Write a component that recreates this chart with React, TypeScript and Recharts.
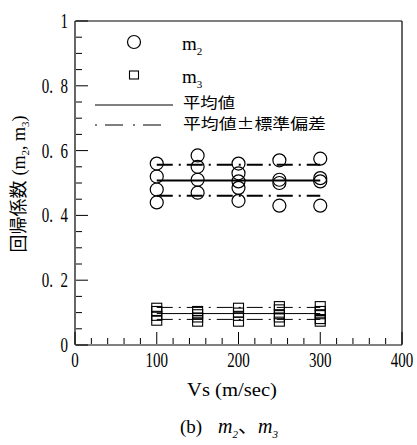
import React from 'react';
import { ComposedChart, XAxis, YAxis, Scatter, Line } from 'recharts';

// shear-wave velocities of the sample groups
const speeds = [100, 150, 200, 250, 300];

// regression coefficient m2 per velocity group
const m2Values = [
  [0.56, 0.52, 0.48, 0.44],
  [0.585, 0.55, 0.51, 0.47],
  [0.56, 0.53, 0.505, 0.485, 0.445],
  [0.57, 0.51, 0.5, 0.43],
  [0.575, 0.515, 0.505, 0.43],
];

// regression coefficient m3 per velocity group
const m3Values = [
  [0.115, 0.105, 0.09, 0.075],
  [0.105, 0.095, 0.085, 0.072],
  [0.115, 0.1, 0.09, 0.072],
  [0.12, 0.11, 0.095, 0.085, 0.072],
  [0.12, 0.105, 0.095, 0.08, 0.072],
];

// lower (mean - sd), mean, upper (mean + sd)
const m2Stats = [0.461, 0.508, 0.556];
const m3Stats = [0.079, 0.097, 0.116];

const xTicks = [0, 20, 40, 60, 80, 100, 120, 140, 160, 180, 200, 220, 240, 260, 280, 300, 320, 340, 360, 380, 400];
const yTicks = [0, 0.05, 0.1, 0.15, 0.2, 0.25, 0.3, 0.35, 0.4, 0.45, 0.5, 0.55, 0.6, 0.65, 0.7, 0.75, 0.8, 0.85, 0.9, 0.95, 1];

const toPoints = (groups: number[][]) =>
  groups.flatMap((vals, i) => vals.map((y) => ({ x: speeds[i], y })));

const span = (y: number) => [
  { x: speeds[0], y },
  { x: speeds[speeds.length - 1], y },
];

const m2Points = toPoints(m2Values);
const m3Points = toPoints(m3Values);

const NUM_FONT = 'Liberation Serif';
const JP_FONT = '"Noto Sans CJK JP", sans-serif';
const DASH_DOT = '16 6 2 6';
const AXIS = { stroke: '#000', strokeWidth: 1.2 };

// "0. 8" style labels, with an en space after the point
const fmtY = (v: number) => (v === 0 ? '0' : v === 1 ? '1' : v.toFixed(1).replace('.', '.\u2002'));
const isMajorX = (v: number) => v % 100 === 0;
const isMajorY = (v: number) => Math.round(v * 100) % 20 === 0;

const Num = ({ x, y, anchor, children }: any) => (
  <text
    transform={`translate(${x},${y}) scale(0.75,1)`}
    textAnchor={anchor}
    fontSize={20}
    fontFamily={NUM_FONT}
    fill="#000"
  >
    {children}
  </text>
);

// axes are 1px thick bands, so tick anchors sit 1px off the frame
const BottomTick = ({ x, y, payload }: any) => {
  const v = payload.value;
  const y0 = y - 1;
  const major = isMajorX(v);
  return (
    <g>
      <line x1={x} y1={y0} x2={x} y2={y0 - (major ? 12 : 6)} stroke="#000" />
      {major && (
        <Num x={x} y={y0 + 23} anchor="middle">
          {v}
        </Num>
      )}
    </g>
  );
};

const TopTick = ({ x, y, payload }: any) => (
  <line x1={x} y1={y + 1} x2={x} y2={y + 1 + (isMajorX(payload.value) ? 12 : 6)} stroke="#000" />
);

const LeftTick = ({ x, y, payload }: any) => {
  const v = payload.value;
  const x0 = x + 1;
  const major = isMajorY(v);
  return (
    <g>
      <line x1={x0} y1={y} x2={x0 + (major ? 12 : 6)} y2={y} stroke="#000" />
      {major && (
        <Num x={x0 - 8} y={y + 7} anchor="end">
          {fmtY(v)}
        </Num>
      )}
    </g>
  );
};

const RightTick = ({ x, y, payload }: any) => (
  <line x1={x - 1} y1={y} x2={x - 1 - (isMajorY(payload.value) ? 12 : 6)} y2={y} stroke="#000" />
);

const Ring = ({ cx, cy }: any) => (
  <circle cx={cx} cy={cy} r={6.5} fill="none" stroke="#000" strokeWidth={1.2} />
);

const Box = ({ cx, cy }: any) => (
  <rect x={cx - 5} y={cy - 4.5} width={10} height={9} fill="none" stroke="#000" strokeWidth={1.1} />
);

const Sub = ({ children }: any) => (
  <tspan fontSize={11} dy={5}>
    {children}
  </tspan>
);

const Overlay = () => (
  <svg
    width={417}
    height={445}
    style={{ position: 'absolute', left: 0, top: 0, pointerEvents: 'none' }}
  >
    {/* legend */}
    <circle cx={134} cy={42} r={6.5} fill="none" stroke="#000" strokeWidth={1.2} />
    <text x={182} y={50} fontSize={19} fontFamily={NUM_FONT}>
      m<Sub>2</Sub>
    </text>
    <rect x={129.5} y={71} width={9} height={8} fill="none" stroke="#000" strokeWidth={1.1} />
    <text x={182} y={83} fontSize={19} fontFamily={NUM_FONT}>
      m<Sub>3</Sub>
    </text>
    <line x1={95} y1={105} x2={173} y2={105} stroke="#000" strokeWidth={1.2} />
    <text x={183} y={108} fontSize={15} fontFamily={JP_FONT} textLength={52} lengthAdjust="spacingAndGlyphs">
      平均値
    </text>
    <line x1={95} y1={125} x2={162} y2={125} stroke="#000" strokeWidth={1.2} strokeDasharray="2 8 18 10" />
    <text x={183} y={129} fontSize={15} fontFamily={JP_FONT} textLength={143} lengthAdjust="spacingAndGlyphs">
      平均値±標準偏差
    </text>

    {/* axis titles */}
    <text
      x={232}
      y={396}
      fontSize={19}
      fontFamily={NUM_FONT}
      textAnchor="middle"
      textLength={90}
      lengthAdjust="spacingAndGlyphs"
    >
      Vs (m/sec)
    </text>
    <g transform="translate(25,184) rotate(-90)">
      <text x={0} y={0} textAnchor="middle" fontSize={18}>
        <tspan fontFamily={JP_FONT}>回帰係数</tspan>
        <tspan fontFamily={NUM_FONT} dx={5}>(m</tspan>
        <tspan fontFamily={NUM_FONT} fontSize={11} dy={4}>2</tspan>
        <tspan fontFamily={NUM_FONT} dy={-4}>, m</tspan>
        <tspan fontFamily={NUM_FONT} fontSize={11} dy={4}>3</tspan>
        <tspan fontFamily={NUM_FONT} dy={-4}>)</tspan>
      </text>
    </g>

    {/* caption */}
    <text x={180} y={433} fontSize={19} fontFamily={NUM_FONT}>
      (b)
    </text>
    <text x={218} y={433} fontSize={20} fontFamily={NUM_FONT} fontStyle="italic">
      m<Sub>2</Sub>
      <tspan dy={-5} fontStyle="normal" fontFamily={JP_FONT}>、</tspan>m<Sub>3</Sub>
    </text>
  </svg>
);

export default function App() {
  return (
    <div style={{ position: 'absolute', left: 0, top: 0, width: 417, height: 445, background: '#fff' }}>
      <ComposedChart width={417} height={445} margin={{ top: 20, right: 14, bottom: 99, left: 74 }}>
        <XAxis
          dataKey="x"
          type="number"
          domain={[0, 400]}
          ticks={xTicks}
          interval={0}
          height={1}
          tickSize={0}
          tickMargin={0}
          tickLine={false}
          tick={<BottomTick />}
          axisLine={AXIS}
        />
        <XAxis
          xAxisId="top"
          orientation="top"
          type="number"
          domain={[0, 400]}
          ticks={xTicks}
          interval={0}
          height={1}
          tickSize={0}
          tickMargin={0}
          tickLine={false}
          tick={<TopTick />}
          axisLine={AXIS}
        />
        <YAxis
          dataKey="y"
          type="number"
          domain={[0, 1]}
          ticks={yTicks}
          interval={0}
          width={1}
          tickSize={0}
          tickMargin={0}
          tickLine={false}
          tick={<LeftTick />}
          axisLine={AXIS}
        />
        <YAxis
          yAxisId="right"
          orientation="right"
          type="number"
          domain={[0, 1]}
          ticks={yTicks}
          interval={0}
          width={1}
          tickSize={0}
          tickMargin={0}
          tickLine={false}
          tick={<RightTick />}
          axisLine={AXIS}
        />

        <Line data={span(m2Stats[1])} dataKey="y" stroke="#000" strokeWidth={2} dot={false} activeDot={false} isAnimationActive={false} />
        <Line data={span(m2Stats[0])} dataKey="y" stroke="#000" strokeWidth={2} strokeDasharray={DASH_DOT} dot={false} activeDot={false} isAnimationActive={false} />
        <Line data={span(m2Stats[2])} dataKey="y" stroke="#000" strokeWidth={2} strokeDasharray={DASH_DOT} dot={false} activeDot={false} isAnimationActive={false} />

        <Line data={span(m3Stats[1])} dataKey="y" stroke="#000" strokeWidth={1} dot={false} activeDot={false} isAnimationActive={false} />
        <Line data={span(m3Stats[0])} dataKey="y" stroke="#000" strokeWidth={1} strokeDasharray={DASH_DOT} dot={false} activeDot={false} isAnimationActive={false} />
        <Line data={span(m3Stats[2])} dataKey="y" stroke="#000" strokeWidth={1} strokeDasharray={DASH_DOT} dot={false} activeDot={false} isAnimationActive={false} />

        <Scatter data={m2Points} dataKey="y" shape={<Ring />} isAnimationActive={false} />
        <Scatter data={m3Points} dataKey="y" shape={<Box />} isAnimationActive={false} />
      </ComposedChart>
      <Overlay />
    </div>
  );
}
